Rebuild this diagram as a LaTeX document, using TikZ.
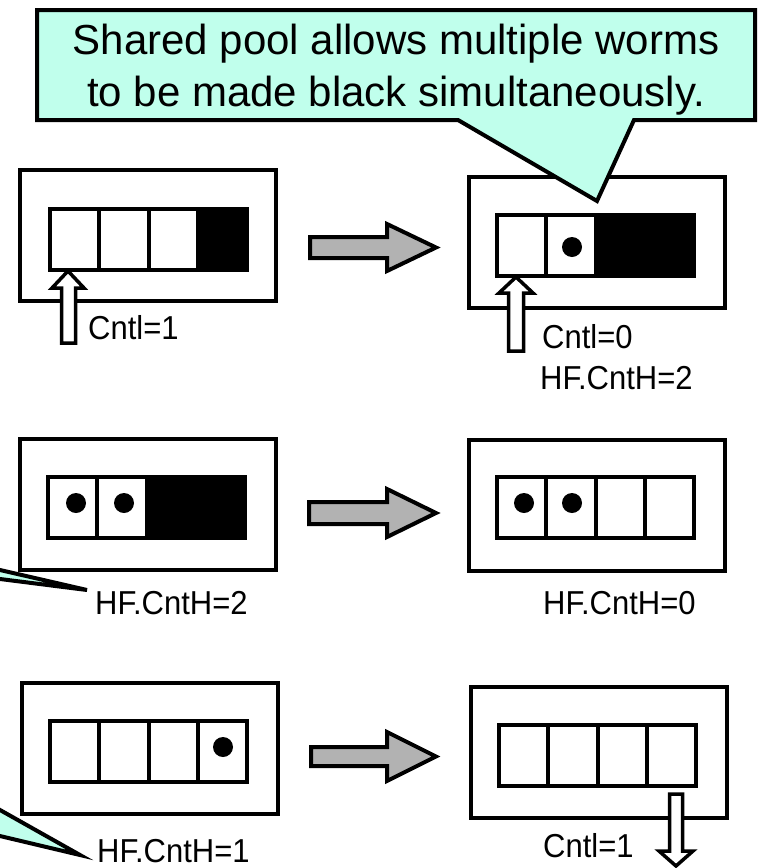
\documentclass[tikz,border=0pt]{standalone}
\usepackage{fontspec}
\setmainfont{Liberation Sans}
\usepackage{graphicx}
\definecolor{callcyan}{RGB}{192,255,236}
\definecolor{arrgray}{RGB}{178,178,178}
\newcommand{\tallt}[1]{\scalebox{1}[1.07]{#1}}
\begin{document}
\begin{tikzpicture}[x=1pt,y=-1pt,line join=miter,
  outerbox/.style={draw,line width=4pt,minimum width=256pt,minimum height=131pt,inner sep=0pt},
  slot/.style={draw,line width=4pt,fill=white,minimum width=49.3pt,minimum height=61pt,inner sep=0pt},
  slotblack/.style={slot,fill=black},
  token/.style={circle,fill=black,minimum size=20pt,inner sep=0pt},
  lbl/.style={font=\fontsize{31}{36}\selectfont,inner sep=0pt,anchor=west},
  grayarrow/.style={draw,line width=4pt,fill=arrgray},
  hollowarrow/.style={draw,line width=3.5pt,fill=white},
  balloon/.style={draw,line width=4pt,fill=callcyan}]
\useasboundingbox (0,0) rectangle (761,868);
\clip (0,0) rectangle (761,868);

% ---- callout tails entering from the left ----
\draw[balloon] (-30,563.1) -- (87,590) -- (-30,575.2) -- cycle;
\draw[balloon] (-30,793.1) -- (80,855) -- (-30,828.9) -- cycle;

% ================= row 1 =================
\node[outerbox] (b1l) at (148,235.5) {};
\node[slot]      (c1a) at (74.6,239.5) {};
\node[slot]      (c1b) at (123.9,239.5) {};
\node[slot]      (c1c) at (173.2,239.5) {};
\node[slotblack] (c1d) at (222.5,239.5) {};

\node[outerbox] (b1r) at (596.5,242.5) {};
\node[slot]      (d1a) at (521.8,245.5) {};
\node[slot]      (d1b) at (571.1,245.5) {};
\node[slotblack] (d1c) at (620.4,245.5) {};
\node[slotblack] (d1d) at (669.7,245.5) {};
\node[token] (t1) at (572,247) {};

\draw[grayarrow] (310,237) -- (387,237) -- (387,224) -- (436,247.5) -- (387,271)
  -- (387,258) -- (310,258) -- cycle;

% counters pointing up into the first slot
\draw[hollowarrow] (61.5,343) -- (61.5,288) -- (52,288) -- (68,271) -- (84,288)
  -- (75.5,288) -- (75.5,343) -- cycle;
\draw[hollowarrow] (508.5,351) -- (508.5,293) -- (499,293) -- (516,277) -- (533,293)
  -- (523.5,293) -- (523.5,351) -- cycle;

\node[lbl] (n1a) at (88,328) {\tallt{Cntl=1}};
\node[lbl] (n1b) at (542,337) {\tallt{Cntl=0}};
\node[lbl] (n1c) at (540,378) {\tallt{HF.CntH=2}};

% ================= row 2 =================
\node[outerbox] (b2l) at (147.5,504.5) {};
\node[slot]      (c2a) at (72.8,507) {};
\node[slot]      (c2b) at (122.1,507) {};
\node[slotblack] (c2c) at (171.4,507) {};
\node[slotblack] (c2d) at (220.7,507) {};
\node[token] (t2a) at (76,503) {};
\node[token] (t2b) at (124,503) {};

\node[outerbox] (b2r) at (596.5,505.5) {};
\node[slot] (d2a) at (521.6,507) {};
\node[slot] (d2b) at (570.9,507) {};
\node[slot] (d2c) at (620.2,507) {};
\node[slot] (d2d) at (669.5,507) {};
\node[token] (t2c) at (524,503) {};
\node[token] (t2d) at (572,503) {};

\draw[grayarrow] (309,502) -- (387,502) -- (387,489) -- (436,513) -- (387,537)
  -- (387,524) -- (309,524) -- cycle;

\node[lbl] (n2a) at (95,603) {\tallt{HF.CntH=2}};
\node[lbl] (n2b) at (543,603) {\tallt{HF.CntH=0}};

% ================= row 3 =================
\node[outerbox] (b3l) at (149.5,748) {};
\node[slot] (c3a) at (74.6,751.5) {};
\node[slot] (c3b) at (123.9,751.5) {};
\node[slot] (c3c) at (173.2,751.5) {};
\node[slot] (c3d) at (222.5,751.5) {};
\node[token] (t3) at (223,747) {};

\node[outerbox] (b3r) at (599,752) {};
\node[slot] (d3a) at (523.8,755) {};
\node[slot] (d3b) at (573.1,755) {};
\node[slot] (d3c) at (622.4,755) {};
\node[slot] (d3d) at (671.7,755) {};

\draw[grayarrow] (311,747) -- (387,747) -- (387,732) -- (436,756.5) -- (387,781)
  -- (387,766) -- (311,766) -- cycle;

% counter leaving the last slot
\draw[hollowarrow] (669.5,794) -- (682.5,794) -- (682.5,851) -- (693,851) -- (676,866)
  -- (659,851) -- (669.5,851) -- cycle;

\node[lbl] (n3a) at (97,851) {\tallt{HF.CntH=1}};
\node[lbl] (n3b) at (543,846) {\tallt{Cntl=1}};

% ================= top callout =================
\draw[balloon] (37,10) -- (755,10) -- (755,120) -- (634,120) -- (597,201)
  -- (458,120) -- (37,120) -- cycle;
\node[font=\fontsize{42}{52}\selectfont,align=center,inner sep=0pt] (note) at (396,70)
  {Shared pool allows multiple worms\\to be made black simultaneously.};
\end{tikzpicture}
\end{document}
